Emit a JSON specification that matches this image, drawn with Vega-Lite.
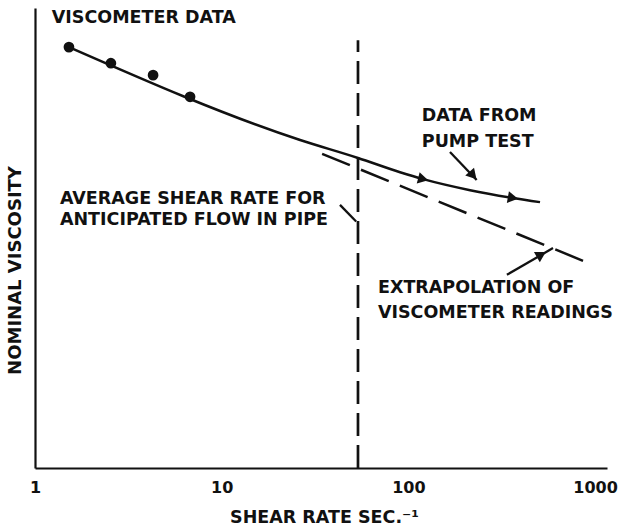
{
  "$schema": "https://vega.github.io/schema/vega-lite/v6.json",
  "width": 572,
  "height": 460,
  "autosize": "none",
  "padding": {"left": 35, "top": 8, "right": 28, "bottom": 61},
  "background": "white",
  "config": {
    "view": {"stroke": null},
    "font": "DejaVu Sans",
    "axis": {"grid": false, "domainColor": "#111", "domainWidth": 2.2, "labelColor": "#111", "titleColor": "#111"}
  },
  "layer": [
    {
      "data": {"values": [
        {"x": 1.52, "y": 91.5}, {"x": 26.3, "y": 71.3}, {"x": 53.7, "y": 67.4},
        {"x": 90.2, "y": 64.3}, {"x": 120, "y": 62.8}, {"x": 214, "y": 60.4},
        {"x": 363, "y": 58.7}, {"x": 507, "y": 57.8}
      ]},
      "mark": {"type": "line", "color": "#111", "strokeWidth": 2.5, "interpolate": "monotone"},
      "encoding": {
        "x": {"field": "x", "type": "quantitative",
          "scale": {"type": "log", "domain": [1, 1158], "nice": false},
          "axis": {"values": [1, 10, 100, 1000], "ticks": false, "labelFont": "DejaVu Sans", "labelFontWeight": "bold", "labelFontSize": 16, "labelPadding": 11, "labelFlush": false, "labelBound": false, "labelOverlap": false, "labelExpr": "datum.value", "title": "SHEAR RATE SEC.⁻¹", "titleFont": "DejaVu Sans", "titleFontWeight": "bold", "titleFontSize": 17.5, "titleX": 289, "titleY": 49, "titleBaseline": "middle", "titleAlign": "center"}},
        "y": {"field": "y", "type": "quantitative",
          "scale": {"domain": [0, 100], "nice": false, "zero": false},
          "axis": {"labels": false, "ticks": false, "title": "NOMINAL VISCOSITY", "titleFont": "DejaVu Sans", "titleFontWeight": "bold", "titleFontSize": 18, "titleAngle": -90, "titleX": -20, "titleY": 262, "titleBaseline": "middle", "titleAlign": "center"}}
      }
    },
    {
      "data": {"values": [
        {"x": 1.52, "y": 91.5}, {"x": 2.55, "y": 88.0}, {"x": 4.29, "y": 85.4}, {"x": 6.77, "y": 80.7}
      ]},
      "mark": {"type": "point", "shape": "circle", "filled": true, "color": "#111", "opacity": 1, "size": 115},
      "encoding": {"x": {"field": "x", "type": "quantitative"}, "y": {"field": "y", "type": "quantitative"}}
    },
    {
      "data": {"values": [{"x": 34.5, "y": 68.3}, {"x": 916, "y": 44.6}]},
      "mark": {"type": "line", "color": "#111", "strokeWidth": 2.5, "strokeDash": [30, 12]},
      "encoding": {"x": {"field": "x", "type": "quantitative"}, "y": {"field": "y", "type": "quantitative"}}
    },
    {
      "data": {"values": [{"x": 53.7, "y": 0, "y2": 93.0}]},
      "mark": {"type": "rule", "color": "#111", "strokeWidth": 2.7, "strokeDash": [23, 9]},
      "encoding": {"x": {"field": "x", "type": "quantitative"}, "y": {"field": "y", "type": "quantitative"}, "y2": {"field": "y2"}}
    },
    {
      "data": {"values": [
        {"x": 167, "y": 68.7, "x2": 232, "y2": 62.6},
        {"x": 337, "y": 42.0, "x2": 595, "y2": 47.8},
        {"x": 43.0, "y": 57.2, "x2": 52.5, "y2": 53.6}
      ]},
      "mark": {"type": "rule", "color": "#111", "strokeWidth": 2.3},
      "encoding": {"x": {"field": "x", "type": "quantitative"}, "y": {"field": "y", "type": "quantitative"}, "x2": {"field": "x2"}, "y2": {"field": "y2"}}
    },
    {
      "data": {"values": [
        {"x": 120, "y": 62.8, "angle": 14},
        {"x": 363, "y": 58.7, "angle": 10},
        {"x": 222, "y": 63.6, "angle": 48},
        {"x": 515, "y": 46.4, "angle": -30}
      ]},
      "mark": {"type": "point", "shape": "triangle-right", "filled": true, "color": "#111", "opacity": 1, "size": 140},
      "encoding": {"x": {"field": "x", "type": "quantitative"}, "y": {"field": "y", "type": "quantitative"}, "angle": {"field": "angle", "type": "quantitative", "scale": null}}
    },
    {
      "data": {"values": [
        {"x": 1.23, "y": 97.8, "text": "VISCOMETER DATA"},
        {"x": 1.36, "y": 58.5, "text": "AVERAGE SHEAR RATE FOR"},
        {"x": 1.36, "y": 53.9, "text": "ANTICIPATED FLOW IN PIPE"},
        {"x": 118, "y": 76.5, "text": "DATA FROM"},
        {"x": 118, "y": 70.9, "text": "PUMP TEST"},
        {"x": 68.7, "y": 39.1, "text": "EXTRAPOLATION OF"},
        {"x": 68.7, "y": 33.7, "text": "VISCOMETER READINGS"}
      ]},
      "mark": {"type": "text", "align": "left", "baseline": "middle", "font": "DejaVu Sans", "fontWeight": "bold", "fontSize": 17.5, "color": "#111"},
      "encoding": {"x": {"field": "x", "type": "quantitative"}, "y": {"field": "y", "type": "quantitative"}, "text": {"field": "text"}}
    }
  ]
}
